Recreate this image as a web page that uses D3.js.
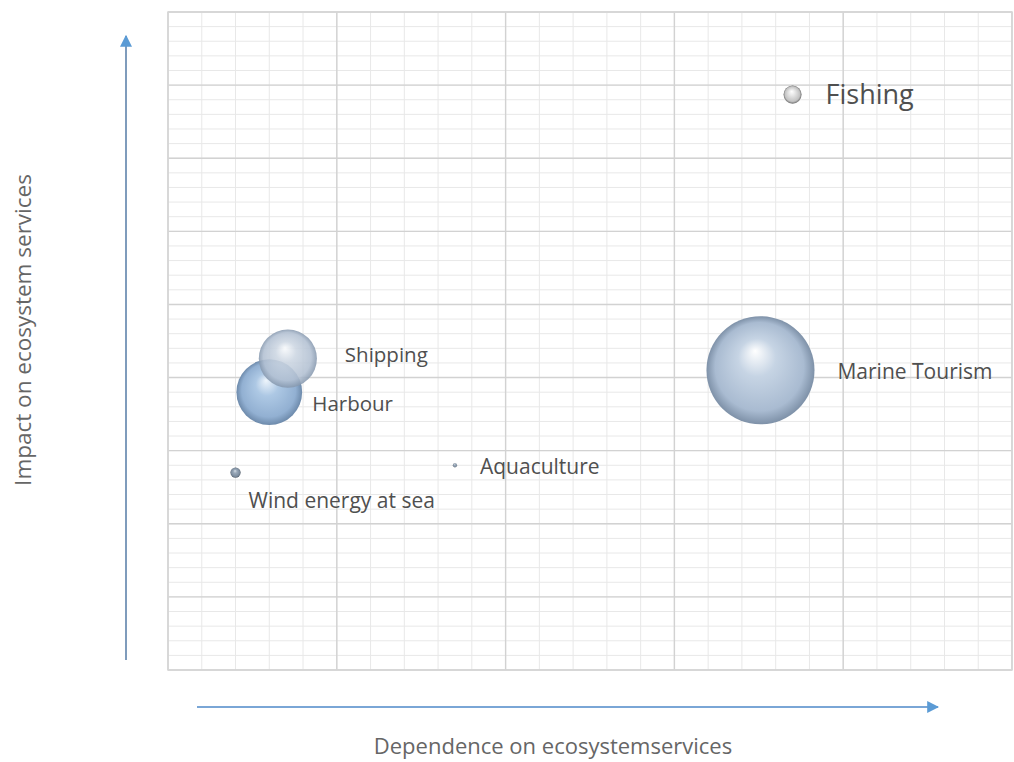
<!DOCTYPE html>
<html>
<head>
<meta charset="utf-8">
<script src="https://cdn.jsdelivr.net/npm/d3@7"></script>
<style>
  html, body { margin: 0; padding: 0; background: #fff; }
  svg { display: block; }
</style>
</head>
<body>
<div id="chart"></div>
<script>
// values
const sectors = ["Fishing", "Marine Tourism", "Shipping", "Harbour", "Wind energy at sea", "Aquaculture"]
const dependence = [3.70, 3.51, 0.71, 0.60, 0.40, 1.70]
const impact = [7.87, 4.10, 4.26, 3.80, 2.70, 2.80]
const bubbleSize = [2.8, 100, 29, 37, 0.9, 0.15]

const width = 1014, height = 762
const plot = { left: 168, right: 1012, top: 12, bottom: 670 }

const x = d3.scaleLinear().domain([0, 5]).range([plot.left, plot.right])
const y = d3.scaleLinear().domain([0, 9]).range([plot.bottom, plot.top])
const r = d3.scaleSqrt().domain([0, 100]).range([0, 54])

const svg = d3.select("#chart").append("svg")
  .attr("width", width)
  .attr("height", height)
  .style("font-family", "'Open Sans', 'Noto Sans', sans-serif")

const defs = svg.append("defs")

// sphere-like shading, like the excel 3d bubbles
const grads = {
  blue: ["#ffffff", "#c6d4e4", "#a9bbd1", "#7e91a8"],
  harbour: ["#eef5fc", "#adc8e4", "#92b0d2", "#6d8aab"],
  shipping: ["#f8fafc", "#ccd6e2", "#b2c0d2", "#8698ae"],
  grey: ["#ffffff", "#e6e6e6", "#c2c2c2", "#707070"],
  dark: ["#d5dde6", "#9aa9b9", "#7c8c9e", "#55606d"]
}
Object.entries(grads).forEach(([k, c]) => {
  const g = defs.append("radialGradient")
    .attr("id", "ball-" + k)
    .attr("cx", "50%").attr("cy", "50%").attr("r", "50%")
    .attr("fx", "45%").attr("fy", "32%")
  g.append("stop").attr("offset", "0%").attr("stop-color", c[0])
  g.append("stop").attr("offset", "35%").attr("stop-color", c[1])
  g.append("stop").attr("offset", "82%").attr("stop-color", c[2])
  g.append("stop").attr("offset", "100%").attr("stop-color", c[3])
})
const fillFor = ["grey", "blue", "shipping", "harbour", "dark", "dark"]
const opacityFor = [1, 1, 0.88, 1, 1, 1]

// gridlines
const grid = svg.append("g")
grid.selectAll(".vminor").data(x.ticks(25))
  .enter().append("line")
  .attr("x1", d => x(d)).attr("x2", d => x(d))
  .attr("y1", plot.top).attr("y2", plot.bottom)
  .attr("stroke", "#e8e8e8").attr("stroke-width", 1)
grid.selectAll(".hminor").data(y.ticks(45))
  .enter().append("line")
  .attr("y1", d => y(d)).attr("y2", d => y(d))
  .attr("x1", plot.left).attr("x2", plot.right)
  .attr("stroke", "#e8e8e8").attr("stroke-width", 1)
grid.selectAll(".vmajor").data(x.ticks(5))
  .enter().append("line")
  .attr("x1", d => x(d)).attr("x2", d => x(d))
  .attr("y1", plot.top).attr("y2", plot.bottom)
  .attr("stroke", "#d2d2d2").attr("stroke-width", 1.4)
grid.selectAll(".hmajor").data(y.ticks(9))
  .enter().append("line")
  .attr("y1", d => y(d)).attr("y2", d => y(d))
  .attr("x1", plot.left).attr("x2", plot.right)
  .attr("stroke", "#d2d2d2").attr("stroke-width", 1.4)
grid.append("rect")
  .attr("x", plot.left).attr("y", plot.top)
  .attr("width", plot.right - plot.left).attr("height", plot.bottom - plot.top)
  .attr("fill", "none").attr("stroke", "#d6d6d6").attr("stroke-width", 1.5)

// arrows
defs.append("marker")
  .attr("id", "arrow")
  .attr("viewBox", "0 0 10 10")
  .attr("refX", 9).attr("refY", 5)
  .attr("markerWidth", 6).attr("markerHeight", 6)
  .attr("markerUnits", "strokeWidth")
  .attr("orient", "auto")
  .append("path").attr("d", "M0,0L10,5L0,10Z").attr("fill", "#5b9bd5")

svg.append("line")
  .attr("x1", 126).attr("y1", 660).attr("x2", 126).attr("y2", 36)
  .attr("stroke", "#7f9cbc").attr("stroke-width", 2)
  .attr("marker-end", "url(#arrow)")
svg.append("line")
  .attr("x1", 197).attr("y1", 707).attr("x2", 938).attr("y2", 707)
  .attr("stroke", "#7aa6d6").attr("stroke-width", 2)
  .attr("marker-end", "url(#arrow)")

// axis titles
svg.append("text")
  .attr("x", 553).attr("y", 754)
  .attr("text-anchor", "middle")
  .attr("fill", "#666")
  .style("font-size", "22px")
  .text("Dependence on ecosystemservices")
svg.append("text")
  .attr("transform", "translate(31,330) rotate(-90)")
  .attr("text-anchor", "middle")
  .attr("fill", "#666")
  .style("font-size", "22.5px")
  .text("Impact on ecosystem services")

// bubbles, biggest first; shipping drawn over harbour
const order = [1, 3, 2, 0, 4, 5]
svg.append("g").selectAll("circle")
  .data(order)
  .enter().append("circle")
  .attr("cx", i => x(dependence[i]))
  .attr("cy", i => y(impact[i]))
  .attr("r", i => r(bubbleSize[i]))
  .attr("fill", i => `url(#ball-${fillFor[i]})`)
  .attr("fill-opacity", i => opacityFor[i])

// labels (offset from bubble centre, font size)
const labelOffset = [[33, 9, 27], [77, 9, 21], [57, 3, 20.5], [43, 19, 20.5], [13, 35, 21], [25, 9, 21]]
svg.append("g").selectAll("text")
  .data(d3.range(sectors.length))
  .enter().append("text")
  .attr("x", i => x(dependence[i]) + labelOffset[i][0])
  .attr("y", i => y(impact[i]) + labelOffset[i][1])
  .attr("fill", "#4f4f4f")
  .style("font-size", i => labelOffset[i][2] + "px")
  .text(i => sectors[i])
</script>
</body>
</html>
